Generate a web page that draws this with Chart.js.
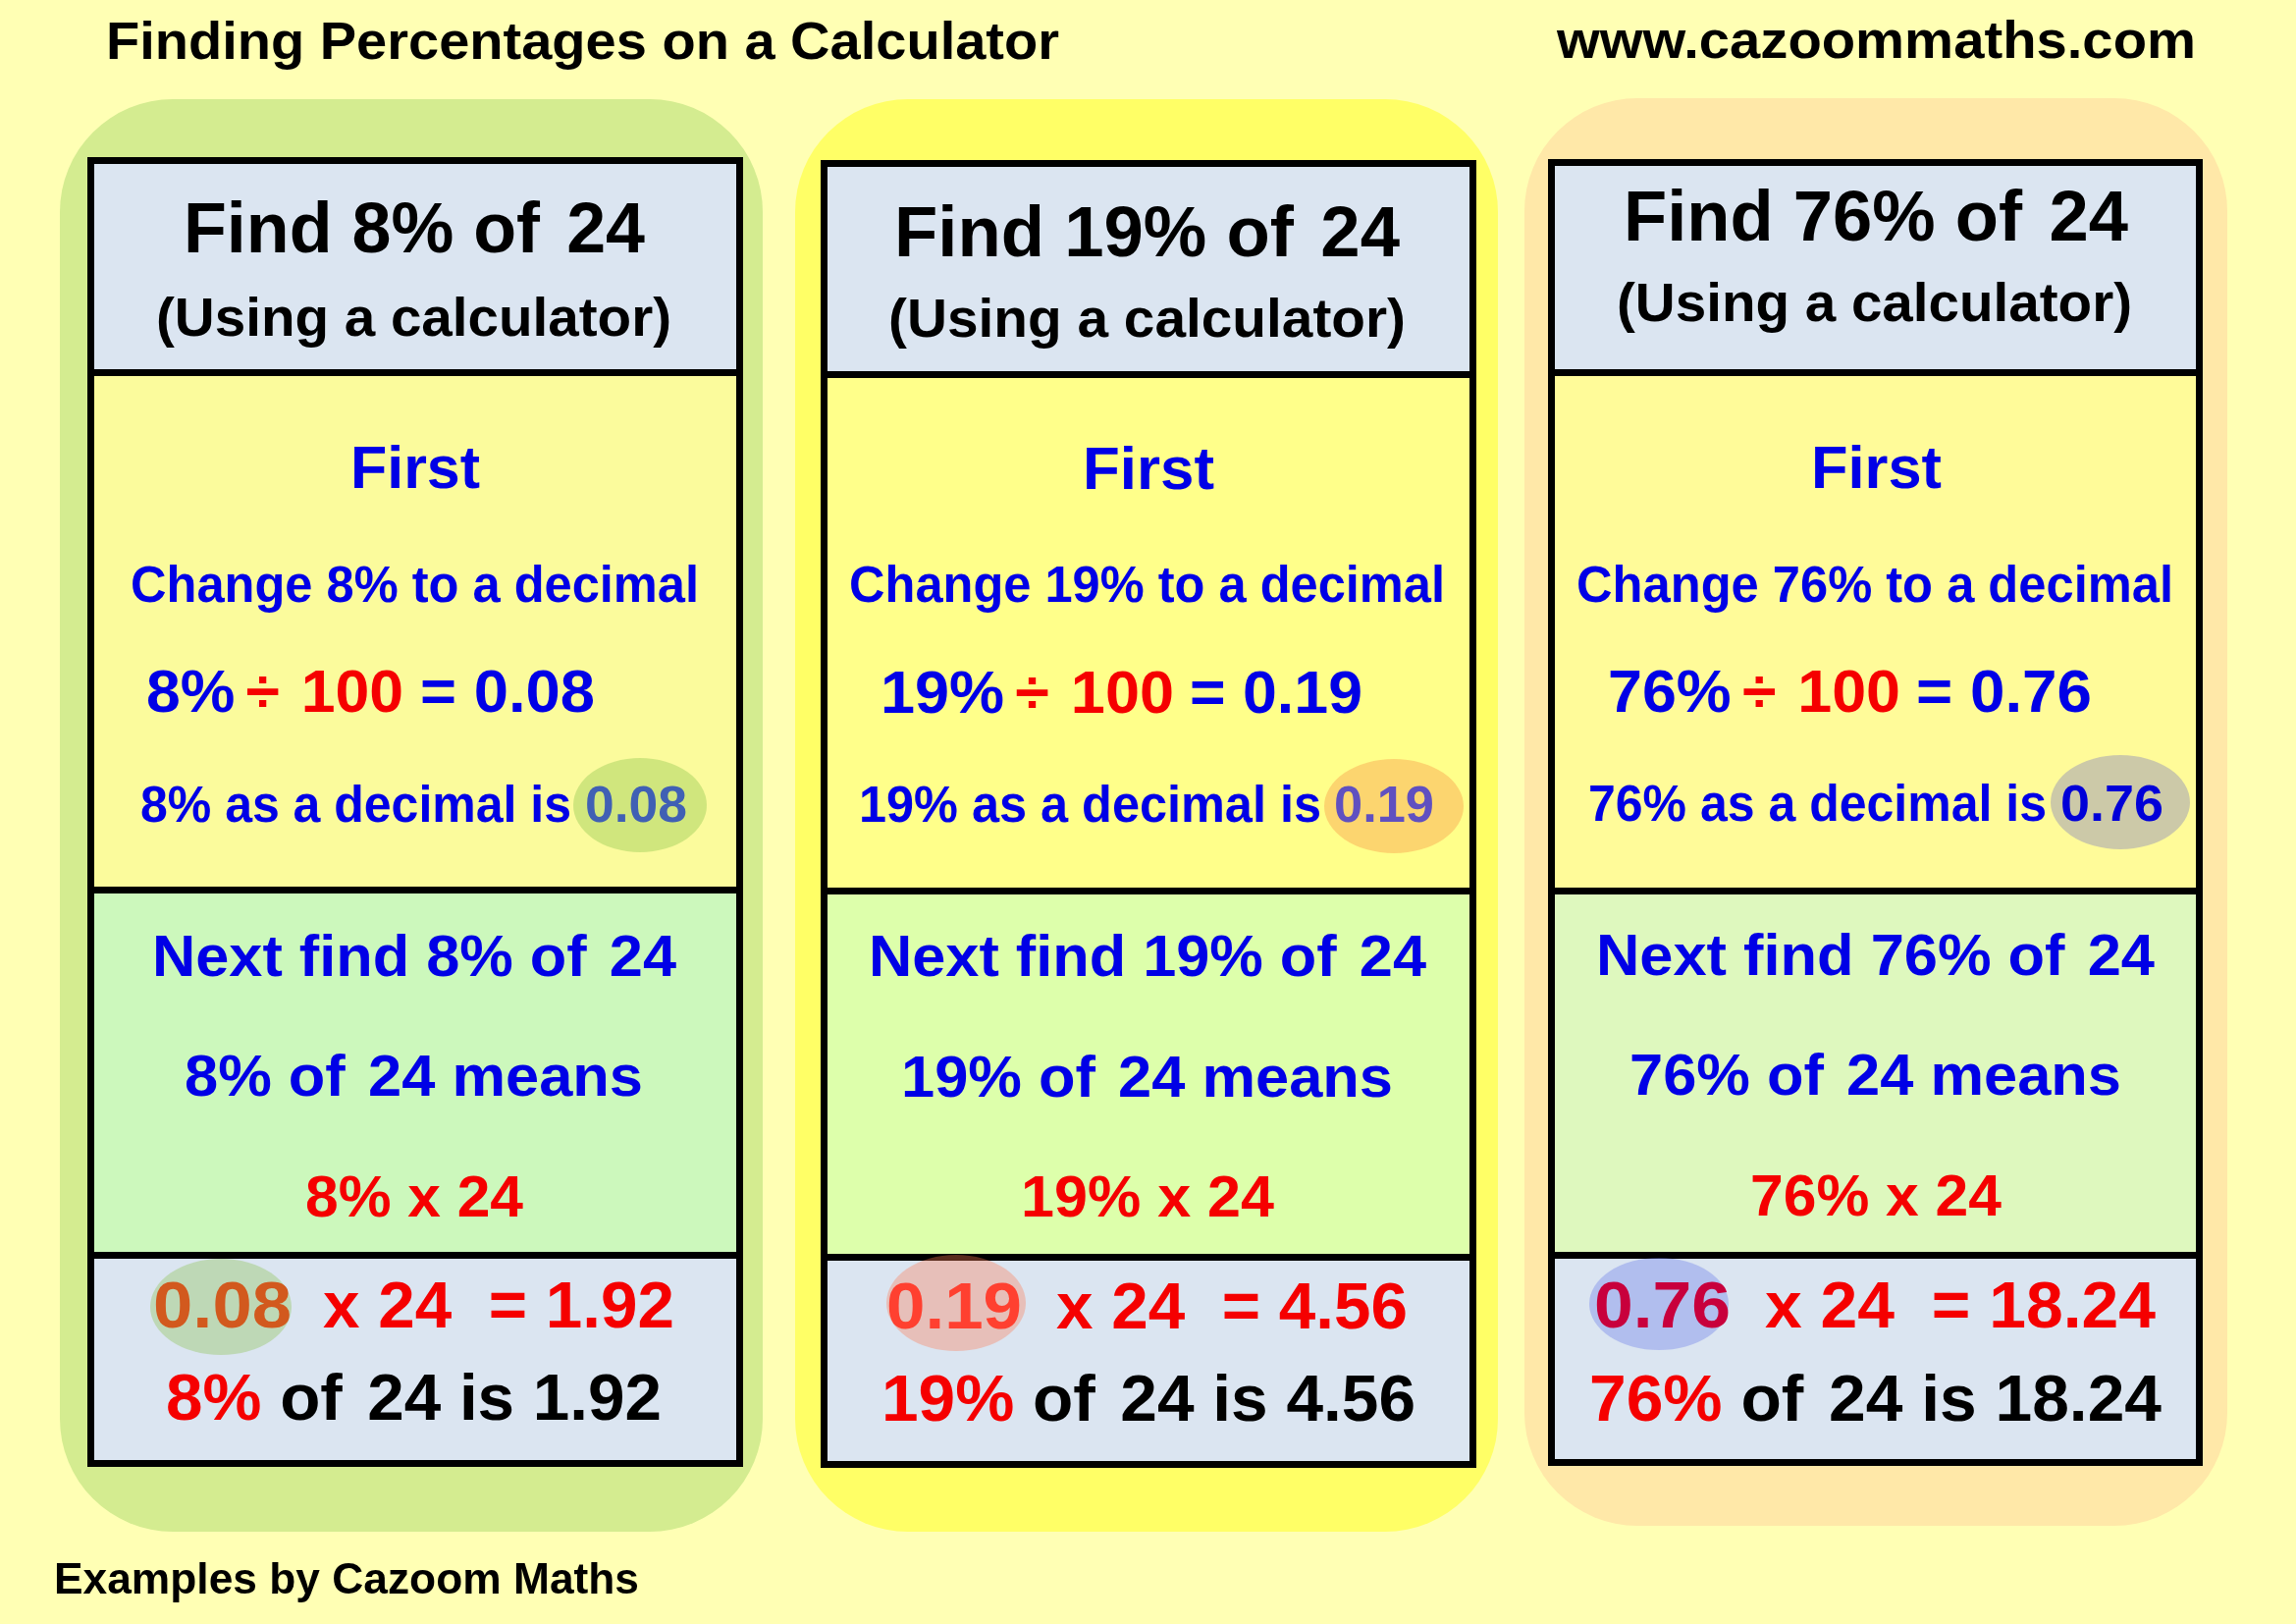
<!DOCTYPE html>
<html>
<head>
<meta charset="utf-8">
<style>
html,body{margin:0;padding:0;background:#FFFFB4;}
canvas{display:block;}
</style>
<script src="https://cdn.jsdelivr.net/npm/chart.js@4"></script>
</head>
<body>
<div style="width:2339px;height:1654px"><canvas id="c" width="2339" height="1654"></canvas></div>
<script>
// ---------- content ----------
const percents = [8, 19, 76];
const decimals = ["0.08", "0.19", "0.76"];
const answers = ["1.92", "4.56", "18.24"];
const whole = 24;
const divisor = 100;
const titleLeft = "Finding Percentages on a Calculator";
const titleRight = "www.cazoommaths.com";
const footer = "Examples by Cazoom Maths";

// ---------- colours ----------
const BLUE = "#0000E6", RED = "#F50000", BLACK = "#000000";
const outerColors = ["#D4EC90", "#FFFF66", "#FFE8A8"];
const headerColors = ["#DBE5F1", "#DBE5F1", "#DBE5F1"];
const firstColors = ["#FBFB9C", "#FFFF8A", "#FFFB99"];
const nextColors = ["#CCF8BC", "#DDFFAB", "#DEF8BE"];
const resultColors = ["#DBE5F1", "#DBE5F1", "#DBE5F1"];
const decimalMarkColors = ["rgba(155,205,89,0.45)", "rgba(247,150,70,0.40)", "#CCC9A8"];
const resultMarkColors = ["rgba(155,200,110,0.45)", "rgba(255,120,80,0.35)", "rgba(100,117,231,0.35)"];
const decimalTextColors = ["#4060B4", "#6050C0", "#0000D8"];
const resultTextColors = ["#D2591E", "#FF4030", "#C8003C"];

// ---------- geometry (page units, one per pixel) ----------
const outerX = [[61, 777], [810, 1526], [1553, 2269]];
const outerY = [[101, 1560], [101, 1560], [100, 1554]];
const boxX = [[89, 757], [836, 1504], [1577, 2244]];
const boxY = [
  [160, 383, 376, 910, 903, 1282, 1275, 1494],
  [163, 385, 378, 911, 904, 1284, 1277, 1495],
  [162, 383, 376, 911, 903, 1282, 1274, 1493]
];
const BORDER = 7, RADIUS = 115;
const decimalMarks = [[652, 820, 68, 48], [1420, 821, 71, 48], [2160, 817, 71, 48]];
const resultMarks = [[225, 1331, 72, 49], [974, 1327, 71, 49], [1690, 1328, 71, 47]];
// [left, right, baseline] per column for each text piece; font size per piece kind
const fit = {
  find:    [[187, 657, 257], [911, 1426, 261], [1654, 2168, 245]],
  using:   [[159, 684, 342], [905, 1432, 343], [1647, 2172, 327]],
  first:   [[357, 489, 497], [1103, 1237, 498], [1845, 1978, 497]],
  change:  [[133, 712, 613], [865, 1472, 613], [1606, 2214, 613]],
  divideA: [[149, 411, 725], [897, 1196, 726], [1638, 1936, 725]],
  divideB: [[428, 606, 725], [1212, 1388, 726], [1952, 2131, 725]],
  asDecA:  [[143, 582, 837], [875, 1346, 837], [1618, 2085, 836]],
  asDecB:  [[596, 700, 837], [1359, 1461, 837], [2099, 2204, 836]],
  next:    [[155, 689, 994], [885, 1453, 994], [1626, 2195, 993]],
  means:   [[188, 655, 1116], [918, 1419, 1117], [1660, 2161, 1115]],
  times:   [[311, 533, 1239], [1040, 1298, 1239], [1783, 2039, 1238]],
  resultA: [[156, 297, 1352], [903, 1041, 1353], [1624, 1763, 1352]],
  resultB: [[329, 687, 1352], [1076, 1434, 1353], [1798, 2196, 1352]],
  answer:  [[169, 674, 1446], [898, 1442, 1447], [1619, 2202, 1447]]
};
const sizes = {find:72, using:56, first:61, change:51, divideA:61, divideB:61, asDecA:51, asDecB:51,
  next:60, means:60, times:60, resultA:67, resultB:67, answer:67};
const FONT = '"Liberation Sans", Arial, sans-serif';

// ---------- chart datasets: every panel is a floating bar ----------
const barBase = {grouped:false, borderSkipped:false, inflateAmount:0};
const datasets = [];
function panel(xr, yr, fill, extra){
  datasets.push(Object.assign({}, barBase, {
    data:[{x:(xr[0]+xr[1])/2, y:[yr[0], yr[1]]}],
    barThickness:xr[1]-xr[0],
    backgroundColor:fill
  }, extra));
}
const sectionStyle = {borderColor:"#000000", borderWidth:BORDER, order:1};
percents.forEach((p, i) => {
  const ys = boxY[i];
  panel(boxX[i], [ys[0], ys[1]], headerColors[i], sectionStyle);
  panel(boxX[i], [ys[2], ys[3]], firstColors[i], sectionStyle);
  panel(boxX[i], [ys[4], ys[5]], nextColors[i], sectionStyle);
  panel(boxX[i], [ys[6], ys[7]], resultColors[i], sectionStyle);
});
percents.forEach((p, i) => {
  panel(outerX[i], outerY[i], outerColors[i], {borderRadius:RADIUS, borderWidth:0, order:2});
});

// ---------- text runs: [text, colour, optional extra gap before it, in em] ----------
function linesFor(i){
  const p = percents[i] + "%", d = decimals[i], a = answers[i];
  return {
    find:   [["Find " + p + " of", BLACK], [" " + whole, BLACK, 0.1]],
    using:  [["(Using a calculator)", BLACK]],
    first:  [["First", BLUE]],
    change: [["Change " + p + " to a decimal", BLUE]],
    divideA:[[p, BLUE], [" ÷", RED, -0.1], [" " + divisor, RED, 0.07]],
    divideB:[["= " + d, BLUE]],
    asDecA: [[p + " as a decimal is", BLUE]],
    asDecB: [[d, decimalTextColors[i]]],
    next:   [["Next find " + p + " of", BLUE], [" " + whole, BLUE, 0.1]],
    means:  [[p + " of", BLUE], [" " + whole + " means", BLUE, 0.1]],
    times:  [[p + " x " + whole, RED]],
    resultA:[[d, resultTextColors[i]]],
    resultB:[["x " + whole + "  = " + a, RED]],
    answer: [[p, RED], [" of", BLACK], [" " + whole + " is " + a, BLACK, 0.1]]
  };
}

const overlay = {
  id:"overlay",
  afterDatasetsDraw(chart){
    const ctx = chart.ctx, X = chart.scales.x, Y = chart.scales.y;
    const px = v => X.getPixelForValue(v), py = v => Y.getPixelForValue(v);
    function mark(m, color){
      ctx.save();
      ctx.fillStyle = color;
      ctx.beginPath();
      ctx.ellipse(px(m[0]), py(m[1]), m[2], m[3], 0, 0, Math.PI*2);
      ctx.fill();
      ctx.restore();
    }
    function line(runs, l, r, base, size){
      ctx.save();
      ctx.font = "bold " + size + "px " + FONT;
      ctx.textBaseline = "alphabetic";
      ctx.textAlign = "left";
      const total = runs.reduce((s, t) => s + ctx.measureText(t[0]).width + (t[2] || 0) * size, 0);
      ctx.translate(px(l), py(base));
      ctx.scale((r - l) / total, 1);
      let x = 0;
      runs.forEach(t => {
        x += (t[2] || 0) * size;
        ctx.fillStyle = t[1];
        ctx.fillText(t[0], x, 0);
        x += ctx.measureText(t[0]).width;
      });
      ctx.restore();
    }
    percents.forEach((p, i) => {
      mark(decimalMarks[i], decimalMarkColors[i]);
      mark(resultMarks[i], resultMarkColors[i]);
      const ls = linesFor(i);
      Object.keys(ls).forEach(k => {
        const f = fit[k][i];
        line(ls[k], f[0], f[1], f[2], sizes[k]);
      });
    });
    line([[titleLeft, BLACK]], 108, 1079, 60, 54);
    line([[titleRight, BLACK]], 1586, 2237, 59, 54);
    line([[footer, BLACK]], 55, 651, 1623, 44);
  }
};

new Chart(document.getElementById("c"), {
  type:"bar",
  data:{datasets},
  options:{
    responsive:false,
    devicePixelRatio:1,
    animation:false,
    events:[],
    layout:{padding:0},
    plugins:{legend:{display:false}, tooltip:{enabled:false}, title:{display:false}},
    scales:{
      x:{type:"linear", min:0, max:2339, offset:false, display:false},
      y:{type:"linear", min:0, max:1654, reverse:true, display:false, beginAtZero:false}
    }
  },
  plugins:[overlay]
});
</script>
</body>
</html>
